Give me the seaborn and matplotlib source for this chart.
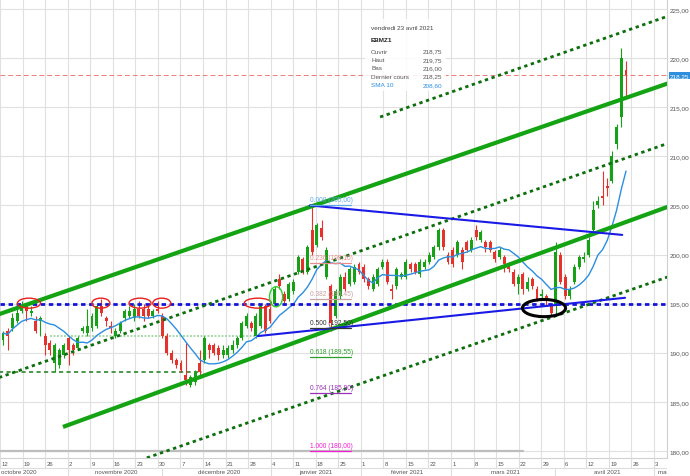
import numpy as np
import pandas as pd
import matplotlib
matplotlib.use("Agg")
import matplotlib.pyplot as plt
import seaborn as sns
from matplotlib.patches import Ellipse, Rectangle

# daily candles (EBMZ1, mid Oct 2020 -> 23 Apr 2021)
opens = [191.25, 192.25, 192.5, 193.25, 194.25, 194.75, 194.0, 193.25, 193.25, 191.75,
         191.0, 189.0, 188.75, 189.75, 191.5, 190.75, 190.5, 192.25, 192.0, 192.5,
         192.75, 194.75, 193.5, 192.75, 191.75, 192.25, 193.5, 193.75, 193.5, 194.5,
         194.5, 194.5, 193.75, 194.5, 193.75, 191.75, 190.0, 189.25, 189.0, 187.75,
         186.75, 187.0, 189.0, 189.25, 190.75, 190.75, 190.5, 189.75, 189.75, 190.25,
         190.75, 191.5, 192.75, 193.0, 191.75, 192.75, 194.75, 194.5, 195.0, 197.5,
         196.0, 195.5, 196.25, 198.25, 199.5, 198.25, 202.5, 201.0, 202.75, 197.75,
         196.75, 193.75, 195.75, 197.75, 197.0, 197.25, 199.0, 198.75, 197.5, 196.5,
         197.0, 198.75, 199.25, 196.5, 196.75, 197.75, 197.75, 199.0, 199.0, 198.0,
         198.75, 199.25, 199.75, 200.75, 202.5, 200.0, 200.5, 200.0, 200.5, 201.25,
         200.5, 202.5, 201.5, 201.25, 201.25, 200.25, 199.75, 199.75, 199.0, 198.25,
         197.0, 198.0, 196.5, 197.5, 196.5, 195.75, 195.75, 194.75, 195.0, 200.0,
         197.75, 195.75, 197.25, 198.75, 199.5, 200.0, 202.5, 205.0, 206.0, 207.0,
         207.5, 211.25, 214.0, 218.75]
highs = [192.25, 192.5, 194.0, 194.5, 195.25, 195.0, 194.75, 193.75, 193.75, 192.0,
         191.25, 191.0, 190.5, 191.0, 191.75, 191.0, 191.75, 192.75, 194.5, 194.0,
         195.0, 195.5, 193.75, 193.25, 192.5, 193.25, 194.5, 194.75, 195.0, 195.25,
         195.0, 194.75, 194.5, 195.25, 194.0, 192.0, 190.25, 189.5, 189.25, 191.0,
         187.75, 188.25, 190.25, 191.75, 191.0, 191.0, 190.75, 190.75, 190.75, 191.25,
         191.75, 193.25, 194.0, 193.25, 194.0, 195.0, 195.0, 194.75, 196.75, 198.0,
         196.25, 197.25, 197.5, 200.0, 199.75, 201.0, 205.0, 203.25, 203.5, 200.75,
         197.0, 196.5, 198.0, 198.25, 198.75, 199.0, 199.25, 199.0, 197.75, 198.0,
         198.75, 199.5, 199.5, 197.0, 198.75, 198.25, 199.5, 199.25, 199.25, 199.5,
         199.5, 200.25, 201.0, 202.75, 202.75, 200.25, 200.75, 201.5, 200.75, 201.5,
         201.75, 203.0, 202.5, 201.5, 201.5, 200.5, 200.75, 200.0, 199.25, 198.5,
         198.0, 198.25, 197.75, 197.75, 196.75, 196.5, 196.0, 195.0, 201.25, 200.25,
         198.0, 196.75, 199.0, 200.0, 200.25, 201.75, 205.5, 206.0, 208.5, 207.75,
         210.5, 213.25, 221.0, 219.75]
lows = [190.75, 190.25, 192.25, 193.0, 194.0, 193.25, 193.75, 192.0, 191.75, 189.75,
        189.75, 188.0, 188.5, 189.5, 188.75, 189.75, 190.25, 192.0, 191.75, 192.25,
        192.5, 193.75, 192.75, 192.0, 191.5, 192.0, 193.25, 193.5, 193.25, 193.5,
        193.25, 193.5, 193.5, 194.0, 191.5, 189.75, 189.0, 188.5, 188.0, 186.75,
        186.5, 186.75, 187.75, 189.0, 189.5, 189.75, 189.25, 189.5, 189.5, 190.0,
        190.5, 191.25, 192.5, 192.25, 191.5, 192.5, 192.0, 193.0, 194.75, 196.5,
        195.0, 195.25, 196.0, 198.0, 198.0, 198.0, 200.0, 200.75, 201.5, 197.5,
        192.25, 193.5, 195.5, 196.25, 196.75, 197.0, 198.0, 197.25, 196.5, 196.25,
        196.75, 198.5, 197.0, 195.5, 196.5, 197.5, 197.5, 198.25, 198.0, 197.75,
        198.5, 199.0, 199.5, 200.5, 200.5, 199.0, 198.75, 199.75, 198.5, 200.25,
        200.25, 201.5, 201.25, 200.25, 200.25, 199.25, 199.5, 198.25, 198.25, 196.75,
        196.0, 196.0, 196.25, 196.5, 195.25, 195.5, 194.75, 193.75, 193.75, 197.0,
        195.5, 195.5, 197.0, 198.5, 199.25, 199.75, 202.25, 204.75, 205.0, 206.0,
        207.25, 210.75, 213.0, 216.0]
closes = [192.0, 191.75, 193.5, 194.0, 194.75, 194.25, 194.25, 192.25, 193.5, 190.75,
          190.25, 190.75, 190.25, 190.75, 190.25, 190.25, 191.5, 192.5, 192.75, 193.75,
          194.75, 194.0, 193.25, 192.5, 192.25, 193.0, 194.25, 194.25, 194.5, 193.75,
          193.75, 193.75, 194.25, 194.25, 191.75, 190.0, 189.25, 188.75, 188.25, 187.25,
          187.5, 188.0, 188.0, 191.5, 190.25, 190.0, 189.75, 190.25, 190.5, 190.75,
          191.5, 193.0, 193.75, 192.5, 193.75, 194.75, 192.25, 193.25, 196.5, 196.75,
          195.25, 197.0, 197.25, 199.75, 198.25, 200.75, 200.25, 203.0, 201.75, 200.5,
          193.0, 196.25, 197.75, 196.5, 198.5, 198.75, 198.25, 197.5, 196.75, 197.75,
          198.5, 199.25, 197.25, 196.25, 198.5, 198.0, 199.25, 198.5, 198.25, 199.25,
          199.25, 200.0, 200.75, 202.5, 200.75, 199.25, 199.0, 201.25, 199.25, 200.5,
          201.5, 201.75, 202.25, 200.75, 200.5, 199.5, 200.5, 199.0, 198.5, 197.0,
          197.75, 196.5, 197.25, 196.75, 195.5, 196.0, 195.25, 194.0, 200.25, 197.25,
          195.75, 196.5, 198.75, 199.75, 199.75, 201.5, 204.5, 205.5, 205.75, 206.75,
          210.0, 213.0, 220.0, 218.25]

# x-axis labels
day_labels = ["12", "19", "26", "2", "9", "16", "23", "30", "7", "14", "21", "28", "4", "11", "18",
              "25", "1", "8", "15", "22", "1", "8", "15", "22", "29", "6", "12", "19", "26", "3"]
month_labels = ["octobre 2020", "novembre 2020", "décembre 2020", "janvier 2021",
                "février 2021", "mars 2021", "avril 2021", "mai 2021"]
month_start_week = [3.0, 7.2, 12.0, 16.0, 20.0, 24.6, 29.0]   # separators, in weeks
month_mid_week = [0.05, 5.17, 9.7, 14.0, 18.05, 22.4, 26.95, 29.2]
month_align = ["left"] + ["center"] * 6 + ["left"]

# drawings on the chart: (x in bar index, price)
chan_upper = ([-1, 143], [193.9, 217.6])
chan_lower = ([12.8, 143], [182.45, 205.05])
dot_top = ([80.5, 143], [214.0, 224.45])
dot_mid = ([-1, 143], [187.45, 211.5])
dot_bottom = ([30.7, 143], [179.3, 197.9])
old_low = ([-1, 42.5], [188.0, 188.0])
old_mid = ([10.0, 54.4], [191.7, 191.7])
tri_upper = ([65.5, 132.2], [205.0, 202.0])
tri_lower = ([54.4, 132.8], [191.7, 195.6])
support = 195.0
last_price = 218.25
fib_levels = [205.0, 199.1, 195.45, 192.5, 189.55, 185.9, 180.0]
fib_names = ["0.000 (205,00)", "0.236 (199,10)", "0.382 (195,45)", "0.500 (192,50)",
             "0.618 (189,55)", "0.764 (185,90)", "1.000 (180,00)"]
fib_colors = ["#5aa9e8", "#e88c8c", "#c9a0a0", "#333333", "#2aa02a", "#9b30b8", "#f020d0"]
fib_x = (65.5, 74.3)
red_marks_x = [5.55, 20.9, 29.25, 33.9, 54.4]
red_marks_w = [4.9, 3.85, 4.7, 3.85, 5.8]
red_marks_y = 195.05
green_mark = (58.3, 195.7, 2.8, 2.05)
black_mark = (115.5, 194.55, 9.2, 1.75)

df = pd.DataFrame({"open": opens, "high": highs, "low": lows, "close": closes})
df["i"] = np.arange(len(df))
df["sma10"] = df["close"].rolling(10, min_periods=1).mean()

W, H = 690, 477
ppb = 623 / (len(df) - 1)          # pixels per bar
week_px = 22.55

sns.set_theme(style="white")
plt.rcParams["font.family"] = ["Liberation Sans", "DejaVu Sans"]

fig = plt.figure(figsize=(W / 100, H / 100), dpi=100)
ax = fig.add_axes([0, 18 / H, 667 / W, 459 / H])
ax.set_xlim(-3 / ppb, 664 / ppb)
ax.set_ylim(225 - 449 / 9.822, 225 + 10 / 9.822)

week_x = [(week_px * k - 3) / ppb for k in range(len(day_labels))]
ax.set_xticks(week_x)
ax.set_xticklabels([])
ax.set_yticks(range(180, 226, 5))
ax.set_yticklabels([f"{v:.2f}".replace(".", ",") for v in range(180, 226, 5)])
ax.yaxis.tick_right()
ax.tick_params(axis="y", length=0, pad=2, labelsize=4.6, colors="#555555")
ax.tick_params(axis="x", length=0)
ax.grid(True, color="#e0e0e0", lw=0.8)
for s in ["top", "left"]:
    ax.spines[s].set_visible(False)
for s in ["right", "bottom"]:
    ax.spines[s].set_color("#d0d0d0")
    ax.spines[s].set_linewidth(0.8)

# candles
green, red = "#17a117", "#e5322d"
cols = np.where(df["close"] >= df["open"], green, red)
ax.vlines(df["i"], df["low"], df["high"], colors=cols, lw=0.8, zorder=3)
body = (df["close"] - df["open"]).abs().clip(lower=0.12)
ax.bar(df["i"], body, bottom=df[["open", "close"]].min(axis=1), width=0.64,
       color=cols, lw=0, zorder=3)

sns.lineplot(data=df, x="i", y="sma10", color="#2b8ee0", lw=1.0, ax=ax, zorder=4)
ax.set_xlabel("")
ax.set_ylabel("")

# horizontal references
ax.axhline(last_price, color="#ee7b7b", lw=0.7, dashes=(5, 3), zorder=2)
ax.axhline(support, color="#1414d8", lw=2.0, dashes=(1.6, 1.3), zorder=5)
ax.plot([-1, 111], [180, 180], color="#bdbdbd", lw=1.6, zorder=2)

# channel and triangle
ax.plot(*chan_upper, color="#13a313", lw=3.0, solid_capstyle="butt", zorder=5)
ax.plot(*chan_lower, color="#13a313", lw=3.0, solid_capstyle="butt", zorder=5)
for ln in (dot_top, dot_mid, dot_bottom):
    ax.plot(*ln, color="#0c6e0c", lw=2.0, dashes=(1.2, 1.3), zorder=5)
ax.plot(*old_low, color="#2f852f", lw=1.2, dashes=(2.5, 2), zorder=2)
ax.plot(*old_mid, color="#a8d8a8", lw=1.4, dashes=(1, 0.8), zorder=2)
ax.plot(*tri_upper, color="#1a1ae6", lw=1.5, zorder=5)
ax.plot(*tri_lower, color="#1a1ae6", lw=1.5, zorder=5)

# fibonacci labels
for lvl, name, c in zip(fib_levels, fib_names, fib_colors):
    ax.plot(fib_x, [lvl, lvl], color=c, lw=0.9, zorder=6)
    ax.text(fib_x[0], lvl + 0.2, name, color=c, fontsize=4.8, va="bottom", ha="left", zorder=6)

# circled spots
for x, w in zip(red_marks_x, red_marks_w):
    ax.add_patch(Ellipse((x, red_marks_y), w, 1.02, fill=False, ec="#e8201c", lw=1.0, zorder=6))
gx, gy, gw, gh = green_mark
ax.add_patch(Ellipse((gx, gy), gw, gh, fill=False, ec="#2ad02a", lw=1.0, zorder=6))
bx, by, bw, bh = black_mark
ax.add_patch(Ellipse((bx, by), bw, bh, fill=False, ec="black", lw=2.2, zorder=6))

# last price tag
ax.text(1.004, last_price, f"{last_price:.2f}".replace(".", ","), transform=ax.get_yaxis_transform(),
        fontsize=4.6, color="white", va="center", ha="left",
        bbox=dict(boxstyle="square,pad=0.15", fc="#2f8fdc", ec="none"), clip_on=False)

# tooltip
ax.add_patch(Rectangle((365 / 667, 1 - 92 / 459), 81 / 667, 72 / 459, transform=ax.transAxes,
                       fc="white", ec="none", alpha=0.85, zorder=7))
tip_y = lambda p: 1 - p / 459
ax.text(371 / 667, tip_y(29), "vendredi 23 avril 2021", transform=ax.transAxes, fontsize=4.6,
        color="#444444", va="center", zorder=8)
ax.text(371 / 667, tip_y(41), "EBMZ1", transform=ax.transAxes, fontsize=4.6, weight="bold",
        color="#222222", va="center", zorder=8)
rows = [("Ouvrir", "218,75"), ("Haut", "219,75"), ("Bas", "216,00"), ("Dernier cours", "218,25"),
        ("SMA 10", "208,60")]
for k, (lab, val) in enumerate(rows):
    c = "#2b8ee0" if lab == "SMA 10" else "#555555"
    yy = tip_y(52 + 8.4 * k)
    ax.text(371 / 667, yy, lab, transform=ax.transAxes, fontsize=4.6, color=c, va="center", zorder=8)
    ax.text(442 / 667, yy, val, transform=ax.transAxes, fontsize=4.6, color=c, va="center",
            ha="right", zorder=8)

# bottom date strip
axb = fig.add_axes([0, 0, 667 / W, 18 / H])
axb.set_xlim(ax.get_xlim())
axb.set_ylim(0, 18)
axb.axis("off")
axb.axhline(8.5, color="#dddddd", lw=0.8)
for x, lab in zip(week_x, day_labels):
    axb.plot([x, x], [8.5, 18], color="#dddddd", lw=0.8)
    axb.text(x + 1.2 / ppb, 12.5, lab, fontsize=4.3, color="#555555", va="center", ha="left",
             clip_on=True)
for w in month_start_week:
    x = (week_px * w - 3) / ppb
    axb.plot([x, x], [0, 8.5], color="#dddddd", lw=0.8)
for w, lab, al in zip(month_mid_week, month_labels, month_align):
    axb.text((week_px * w - 3) / ppb, 4, lab, fontsize=4.4, color="#555555", va="center",
             ha=al, clip_on=True)

fig.savefig("out.png", dpi=100)
